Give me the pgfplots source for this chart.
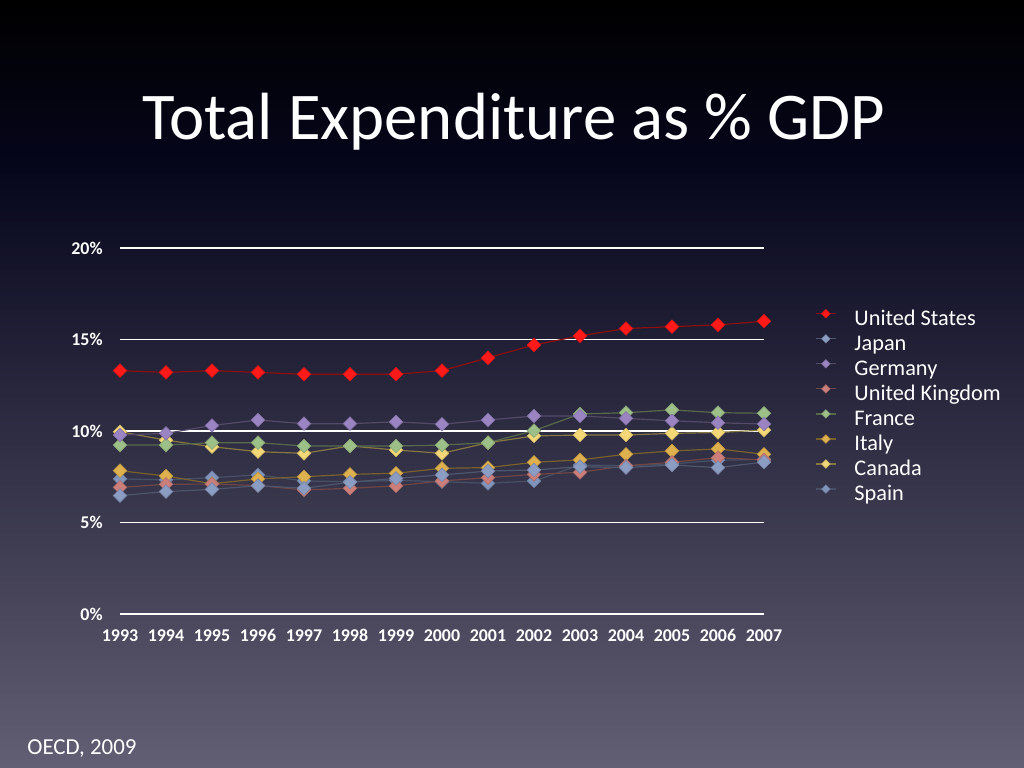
\documentclass[border=0pt]{standalone}
\usepackage{pgfplots}
\pgfplotsset{compat=1.18}
\usepackage{pgfplotstable}
\usepackage{fontspec}
\setmainfont{Carlito}

\definecolor{cUS}{HTML}{FF1A1A}
\definecolor{cJP}{HTML}{8C9DC4}
\definecolor{cDE}{HTML}{9A84C2}
\definecolor{cUK}{HTML}{CB7E7A}
\definecolor{cFR}{HTML}{9CC088}
\definecolor{cIT}{HTML}{DEB04E}
\definecolor{cCA}{HTML}{F4D878}
\definecolor{cES}{HTML}{8094BC}
\definecolor{bgA}{HTML}{06061C}
\definecolor{bgM}{HTML}{2A2840}
\definecolor{bgB}{HTML}{625E73}

% share of GDP, OECD Health Data
\pgfplotstableread{
year  US    JP    DE     UK    FR     IT    CA     ES
1993  13.3  6.47  9.78   6.92  9.23   7.83  9.96   7.38
1994  13.2  6.69  9.87   7.09  9.23   7.54  9.50   7.33
1995  13.3  6.81  10.3   7.10  9.36   7.12  9.14   7.45
1996  13.2  7.01  10.6   7.02  9.36   7.38  8.87   7.60
1997  13.1  6.87  10.4   6.78  9.18   7.50  8.78   7.27
1998  13.1  7.20  10.4   6.87  9.18   7.63  9.18   7.23
1999  13.1  7.41  10.5   7.00  9.18   7.69  8.96   7.30
2000  13.3  7.60  10.37  7.27  9.23   7.96  8.78   7.23
2001  14.0  7.81  10.6   7.45  9.36   8.00  9.36   7.14
2002  14.7  7.87  10.82  7.63  10.02  8.29  9.73   7.27
2003  15.2  8.05  10.82  7.74  10.93  8.42  9.78   8.14
2004  15.6  8.00  10.69  8.10  11.0   8.73  9.78   8.10
2005  15.7  8.14  10.56  8.29  11.15  8.91  9.87   8.20
2006  15.8  8.00  10.45  8.54  11.0   9.02  9.92   8.40
2007  16.0  8.30  10.38  8.42  10.97  8.73  10.05  8.45
}\datatable

\pgfplotsset{
  ser/.style={color=#1!55!black, line width=0.6bp, mark=square*, mark size=2.4bp,
    mark options={rotate=45, fill=#1, draw=#1!85!black, line width=0.3bp}},
}

\begin{document}
\begin{tikzpicture}
% slide background
\shade[top color=black, bottom color=bgA] (0bp,299bp) rectangle (512bp,384bp);
\shade[top color=bgA, middle color=bgM, bottom color=bgB] (0bp,0bp) rectangle (512bp,299.01bp);

\node[anchor=base, text=white, font=\fontsize{33.5}{36}\selectfont] at (257bp,314bp) {Total Expenditure as \% GDP};
\node[anchor=base west, text=white, font=\fontsize{11.5}{13}\selectfont, inner sep=0pt] at (13.5bp,7bp) {OECD, 2009};

\begin{axis}[
  at={(60bp,77bp)}, anchor=south west,
  scale only axis, width=322bp, height=183bp,
  xmin=1993, xmax=2007, ymin=0, ymax=20,
  clip=false,
  axis line style={draw=none},
  major tick length=0pt,
  xtick={1993,1994,...,2007},
  ytick={0,5,10,15,20},
  ymajorgrids, grid style={white, line width=0.7bp},
  /pgf/number format/assume math mode=true,
  /pgf/number format/1000 sep={},
  yticklabel={\pgfmathprintnumber{\tick}\%},
  tick label style={text=white, font=\bfseries\fontsize{9}{10}\selectfont, inner sep=0pt},
  y tick label style={anchor=east, xshift=-8.5bp},
  x tick label style={anchor=north, yshift=-7.5bp},
  reverse legend,
  legend cell align=left,
  legend image code/.code={
    \draw[mark repeat=2, mark phase=2, #1, mark size=1.5bp]
      plot coordinates {(0bp,3.4bp) (5bp,3.4bp) (10bp,3.4bp)};},
  legend style={draw=none, fill=none, text=white, inner sep=0pt,
    at={(1.079,0.833)}, anchor=north west,
    font=\fontsize{11.2}{12}\selectfont,
    column sep=9bp, row sep=2.5bp,
    nodes={inner sep=0pt, text height=7bp, text depth=2bp}},
]
\addplot[ser=cES] table[x=year, y=ES] {\datatable};
\addplot[ser=cCA] table[x=year, y=CA] {\datatable};
\addplot[ser=cIT] table[x=year, y=IT] {\datatable};
\addplot[ser=cFR] table[x=year, y=FR] {\datatable};
\addplot[ser=cUK] table[x=year, y=UK] {\datatable};
\addplot[ser=cDE] table[x=year, y=DE] {\datatable};
\addplot[ser=cJP] table[x=year, y=JP] {\datatable};
\addplot[ser=cUS] table[x=year, y=US] {\datatable};
\legend{Spain, Canada, Italy, France, United Kingdom, Germany, Japan, United States}
\end{axis}
\pgfresetboundingbox
\useasboundingbox (0bp,0bp) rectangle (512bp,384bp);
\end{tikzpicture}
\end{document}
